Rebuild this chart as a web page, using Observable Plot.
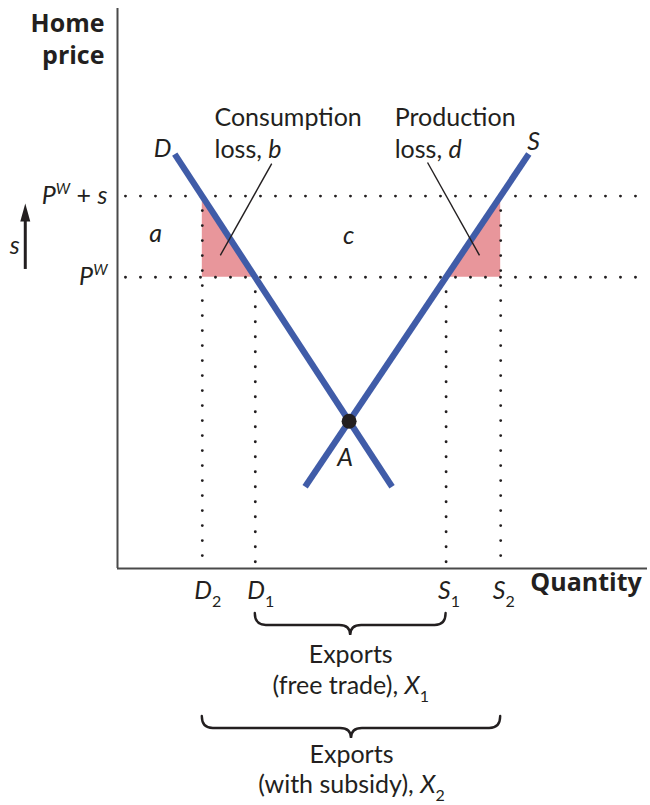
<!DOCTYPE html>
<html>
<head>
<meta charset="utf-8">
<script src="https://cdn.jsdelivr.net/npm/d3@7"></script>
<script src="https://cdn.jsdelivr.net/npm/@observablehq/plot@0.6"></script>
<style>
  body { margin: 0; background: #fff; }
  #chart svg { display: block; }
</style>
</head>
<body>
<div id="chart"></div>
<script>
// ---------- data (quantity on x, home price on y) ----------
const priceLevels = [52, 66.5];                       // P^W, P^W + s
const priceLabels = ["*P*^W", "*P*^W + *s*"];
const quantities = [16, 26, 62, 72.3];                // D2, D1, S1, S2
const quantityLabels = ["*D*_2", "*D*_1", "*S*_1", "*S*_2"];
const demand = [{q: 10.8, p: 74}, {q: 51.8, p: 14.6}];
const supply = [{q: 35.4, p: 14.6}, {q: 77.6, p: 74}];
const equilibrium = [{q: 43.7, p: 26.3, label: "*A*"}];
const consumptionLoss = [{q: 16, p: 66.5}, {q: 26, p: 52}];
const productionLoss = [{q: 62, p: 52}, {q: 72.3, p: 66.5}];
const curveLabels = [{q: 8.5, p: 75, label: "*D*"}, {q: 78.5, p: 76.1, label: "*S*"}];
const areaLabels = [{q: 7.2, p: 59.7, label: "*a*"}, {q: 43.6, p: 59.4, label: "*c*"}];
const lossNotes = [
  {q: 18.3, p: 80.4, label: "Consumption"},
  {q: 18.3, p: 74.8, label: "loss, *b*"},
  {q: 52.3, p: 80.5, label: "Production"},
  {q: 52.3, p: 74.8, label: "loss, *d*"}
];
const leaders = [
  {q1: 29.1, p1: 72.3, q2: 19.4, p2: 55.9},
  {q1: 58.5, p1: 72.5, q2: 68.3, p2: 55.9}
];
const subsidyArrow = [{q: -17.4, from: 53.4, to: 65.2, labelQ: -19.4, labelP: 57.6, label: "*s*"}];
const exportSpans = [
  {from: 26, to: 62, lines: ["Exports", "(free trade), *X*_1"]},
  {from: 16, to: 72.3, lines: ["Exports", "(with subsidy), *X*_2"]}
];
const axisTitles = {y: ["Home", "price"], x: "Quantity"};

// ---------- style ----------
const INK = "#231f20", BLUE = "#405ca8", PINK = "#e8969b", AXIS = "#4a4a4a";
const FONT = "Lato, sans-serif", BOLD = "'Open Sans', sans-serif";
const dotted = {stroke: INK, strokeWidth: 2.9, strokeDasharray: "0 15", strokeLinecap: "round"};
const txt = {fontSize: 25, fill: INK, fontFamily: FONT};
const braceOffsets = [45, 148];
const exportDy = [[86, 117], [186, 216]];

const arrowHead = {
  draw(ctx) { ctx.moveTo(0, 0); ctx.lineTo(5, 18); ctx.lineTo(-5, 18); ctx.closePath(); }
};

function braces(index, scales) {
  const g = d3.create("svg:g").attr("fill", "none").attr("stroke", INK)
    .attr("stroke-width", 2.4).attr("stroke-linecap", "round");
  exportSpans.forEach((s, i) => {
    const x1 = scales.x(s.from), x2 = scales.x(s.to), cx = (x1 + x2) / 2;
    const y0 = scales.y(0) + braceOffsets[i], yM = y0 + 12, yT = y0 + 22, r = 11;
    g.append("path").attr("d",
      `M${x1},${y0}Q${x1},${yM} ${x1 + r},${yM}H${cx - r}Q${cx},${yM} ${cx},${yT}` +
      `Q${cx},${yM} ${cx + r},${yM}H${x2 - r}Q${x2},${yM} ${x2},${y0}`);
  });
  return g.node();
}

const marks = [
  Plot.areaY(consumptionLoss, {x: "q", y1: priceLevels[0], y2: "p", fill: PINK}),
  Plot.areaY(productionLoss, {x: "q", y1: priceLevels[0], y2: "p", fill: PINK}),
  Plot.ruleY(priceLevels, {x1: 1.6, x2: 100, ...dotted}),
  Plot.ruleX([quantities[0], quantities[3]], {y1: priceLevels[1], y2: 0.5, ...dotted}),
  Plot.ruleX([quantities[1], quantities[2]], {y1: priceLevels[0], y2: 0.5, ...dotted}),
  Plot.ruleX([0], {y1: 0, y2: 100, stroke: AXIS, strokeWidth: 2}),
  Plot.ruleY([0], {x1: 0, x2: 100, stroke: AXIS, strokeWidth: 2}),
  Plot.line(demand, {x: "q", y: "p", stroke: BLUE, strokeWidth: 6.3, strokeLinecap: "butt"}),
  Plot.line(supply, {x: "q", y: "p", stroke: BLUE, strokeWidth: 6.3, strokeLinecap: "butt"}),
  Plot.link(leaders, {x1: "q1", y1: "p1", x2: "q2", y2: "p2", stroke: INK, strokeWidth: 1.4}),
  Plot.dot(equilibrium, {x: "q", y: "p", r: 7.5, fill: INK}),
  Plot.text(equilibrium, {x: "q", y: "p", text: "label", dx: -4, dy: 37, ...txt}),
  Plot.text(curveLabels, {x: "q", y: "p", text: "label", ...txt}),
  Plot.text(areaLabels, {x: "q", y: "p", text: "label", ...txt}),
  Plot.text(lossNotes, {x: "q", y: "p", text: "label", textAnchor: "start", ...txt}),
  Plot.text(priceLevels, {x: 0, y: d => d, text: (d, i) => priceLabels[i], textAnchor: "end", dx: -10, ...txt}),
  Plot.ruleX(subsidyArrow, {x: "q", y1: "from", y2: d => d.to - 2, stroke: INK, strokeWidth: 3}),
  Plot.dot(subsidyArrow, {x: "q", y: "to", symbol: arrowHead, fill: INK, stroke: null}),
  Plot.text(subsidyArrow, {x: "labelQ", y: "labelP", text: "label", ...txt}),
  Plot.text(quantities, {x: d => d, y: 0, text: (d, i) => quantityLabels[i], textAnchor: "start", dx: -8, dy: 22, ...txt}),
  Plot.text([axisTitles.x], {x: 77.9, y: 0, text: d => d, textAnchor: "start", dy: 14, ...txt, fontFamily: BOLD, fontWeight: "bold"}),
  Plot.text(axisTitles.y, {x: 0, y: (d, i) => [97.3, 91.6][i], text: d => d, textAnchor: "end", dx: -13, ...txt, fontFamily: BOLD, fontWeight: "bold"}),
  ...exportSpans.flatMap((s, i) => s.lines.map((line, j) =>
    Plot.text([s], {x: d => (d.from + d.to) / 2, y: 0, text: () => line, dy: exportDy[i][j], ...txt}))),
  braces
];

const svg = Plot.plot({
  width: 650, height: 805,
  marginLeft: 117, marginRight: 3, marginTop: 8, marginBottom: 237,
  x: {domain: [0, 100], axis: null},
  y: {domain: [0, 100], axis: null},
  style: {fontFamily: FONT, fontSize: "25px", color: INK, background: "#fff", overflow: "visible"},
  marks
});

// rich text: *italic*, _x subscript (upright), ^x superscript (italic)
function rich(el) {
  const s = el.textContent;
  if (!/[*_^]/.test(s)) return;
  el.textContent = "";
  let italic = false, buf = "", pending = 0;
  const NS = "http://www.w3.org/2000/svg";
  const add = (str, opts = {}) => {
    const t = document.createElementNS(NS, "tspan");
    t.textContent = str;
    if (opts.italic) t.setAttribute("font-style", "italic");
    if (opts.size) t.setAttribute("font-size", opts.size);
    const dy = (opts.dy || 0) + pending;
    if (dy) t.setAttribute("dy", dy);
    pending = 0;
    el.appendChild(t);
  };
  const flush = () => { if (buf) { add(buf, {italic}); buf = ""; } };
  for (let i = 0; i < s.length; i++) {
    const c = s[i];
    if (c === "*") { flush(); italic = !italic; }
    else if (c === "_" || c === "^") {
      flush();
      const sub = c === "_";
      const shift = sub ? 8 : -10;
      add(s[i + 1], {size: sub ? 16 : 15, dy: shift, italic: !sub});
      pending = -shift;
      i++;
    } else buf += c;
  }
  flush();
}
svg.querySelectorAll("text").forEach(rich);
document.getElementById("chart").appendChild(svg);
</script>
</body>
</html>
